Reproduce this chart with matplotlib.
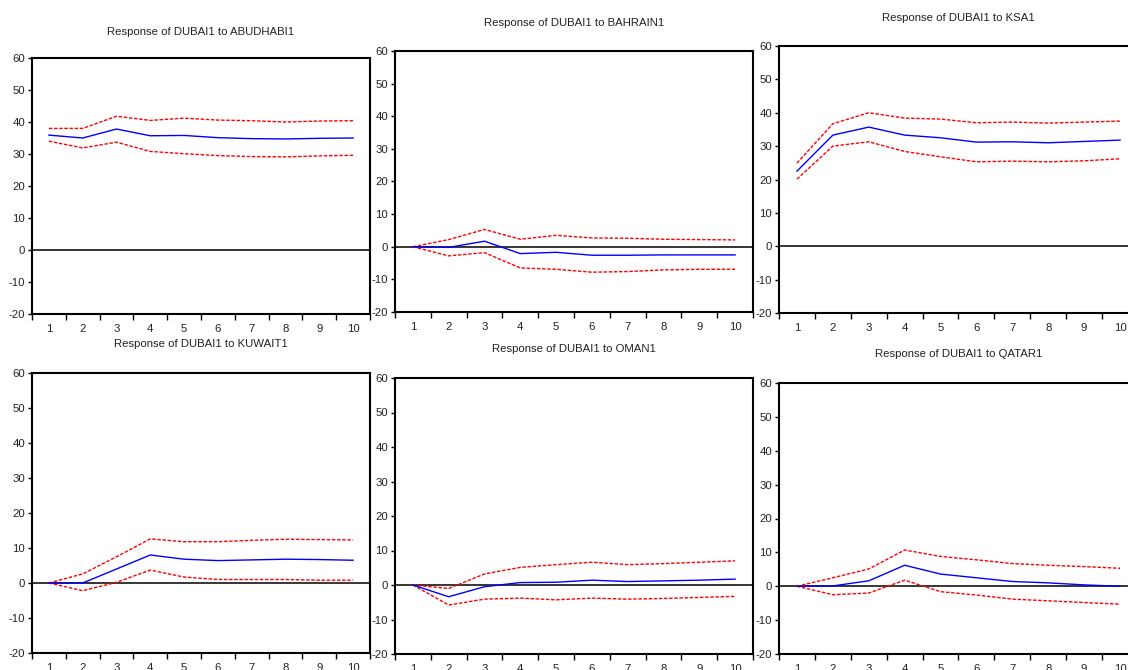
import matplotlib
matplotlib.use("Agg")
import matplotlib.pyplot as plt
from matplotlib.ticker import FixedLocator, NullFormatter

plt.rcParams["font.family"] = ["Liberation Sans", "DejaVu Sans"]
plt.rcParams["axes.unicode_minus"] = False

W, H = 1128, 670
horizon = list(range(1, 11))

titles = [
    "Response of DUBAI1 to ABUDHABI1",
    "Response of DUBAI1 to BAHRAIN1",
    "Response of DUBAI1 to KSA1",
    "Response of DUBAI1 to KUWAIT1",
    "Response of DUBAI1 to OMAN1",
    "Response of DUBAI1 to QATAR1",
]

# impulse responses (blue) and +/- 2 s.e. bands (red dashed)
abudhabi_resp = [35.9, 35.0, 37.8, 35.7, 35.8, 35.1, 34.8, 34.7, 34.9, 35.0]
abudhabi_up = [38.0, 38.0, 41.8, 40.5, 41.2, 40.6, 40.4, 40.0, 40.3, 40.4]
abudhabi_lo = [34.0, 31.9, 33.7, 30.8, 30.1, 29.5, 29.2, 29.1, 29.4, 29.6]

bahrain_resp = [0.0, -0.2, 1.7, -2.1, -1.7, -2.6, -2.6, -2.5, -2.5, -2.5]
bahrain_up = [0.0, 2.2, 5.3, 2.3, 3.5, 2.7, 2.6, 2.3, 2.2, 2.1]
bahrain_lo = [0.0, -2.8, -1.8, -6.5, -6.9, -7.8, -7.6, -7.1, -6.9, -6.9]

ksa_resp = [22.5, 33.3, 35.7, 33.3, 32.5, 31.2, 31.3, 31.0, 31.4, 31.8]
ksa_up = [24.9, 36.7, 40.0, 38.4, 38.1, 37.0, 37.2, 36.9, 37.2, 37.5]
ksa_lo = [20.1, 30.0, 31.3, 28.4, 26.8, 25.3, 25.5, 25.3, 25.6, 26.2]

kuwait_resp = [0.0, 0.0, 4.0, 8.0, 6.8, 6.4, 6.6, 6.8, 6.7, 6.5]
kuwait_up = [0.0, 2.6, 7.5, 12.6, 11.8, 11.8, 12.2, 12.5, 12.4, 12.3]
kuwait_lo = [0.0, -2.2, 0.2, 3.7, 1.7, 1.0, 1.0, 1.0, 0.8, 0.8]

oman_resp = [0.0, -3.4, -0.5, 0.7, 0.8, 1.4, 1.0, 1.2, 1.4, 1.7]
oman_up = [0.0, -1.0, 3.2, 5.1, 5.9, 6.6, 5.9, 6.2, 6.6, 7.0]
oman_lo = [0.0, -5.8, -4.1, -3.8, -4.3, -3.8, -4.1, -3.9, -3.6, -3.3]

qatar_resp = [0.0, 0.1, 1.6, 6.2, 3.6, 2.5, 1.4, 1.0, 0.4, 0.0]
qatar_up = [0.0, 2.5, 5.1, 10.7, 8.8, 7.8, 6.7, 6.2, 5.8, 5.3]
qatar_lo = [0.0, -2.5, -2.0, 1.8, -1.6, -2.6, -3.8, -4.3, -4.8, -5.3]

panels = [
    (abudhabi_resp, abudhabi_up, abudhabi_lo),
    (bahrain_resp, bahrain_up, bahrain_lo),
    (ksa_resp, ksa_up, ksa_lo),
    (kuwait_resp, kuwait_up, kuwait_lo),
    (oman_resp, oman_up, oman_lo),
    (qatar_resp, qatar_up, qatar_lo),
]

# pixel boxes (left, right, top, bottom) of each plot area, as pasted in the original
boxes = [
    (32, 370, 58, 314),
    (395, 753, 51, 312),
    (779, 1138, 46, 313),
    (32, 370, 373, 653),
    (395, 753, 378, 654),
    (779, 1138, 383, 654),
]
title_gap = [26, 28, 28, 29, 29, 29]

fig = plt.figure(figsize=(W / 100, H / 100), dpi=100)

for (resp, up, lo), (l, r, t, b), title, gap in zip(panels, boxes, titles, title_gap):
    ax = fig.add_axes((l / W, 1 - b / H, (r - l) / W, (b - t) / H))
    ax.axhline(0, color="black", lw=1.1, zorder=1)
    ax.plot(horizon, up, color="#ff0000", lw=1.0, dashes=(2.5, 1.2), zorder=2)
    ax.plot(horizon, lo, color="#ff0000", lw=1.0, dashes=(2.5, 1.2), zorder=2)
    ax.plot(horizon, resp, color="#0000ff", lw=1.0, zorder=3)

    ax.set_xlim(0.5, 10.5)
    ax.set_ylim(-20, 60)
    ax.set_yticks(range(-20, 61, 10))
    ax.set_xticks(horizon)
    ax.xaxis.set_minor_locator(FixedLocator([i + 0.5 for i in range(0, 11)]))
    ax.xaxis.set_minor_formatter(NullFormatter())
    ax.tick_params(axis="x", which="major", length=0, pad=7, labelsize=8.2, colors="#222222")
    ax.tick_params(axis="x", which="minor", length=4, width=1, direction="out")
    ax.tick_params(axis="y", length=3, width=1, pad=2, labelsize=8.2, colors="#222222")
    ax.tick_params(axis="both", which="both", color="black")
    for s in ax.spines.values():
        s.set_linewidth(1.5)

    ax.annotate(title, xy=(0.5, 1), xycoords="axes fraction",
                xytext=(0, gap), textcoords="offset pixels",
                ha="center", va="center", fontsize=8.2, color="#222222")

fig.savefig("out.png", dpi=100)
